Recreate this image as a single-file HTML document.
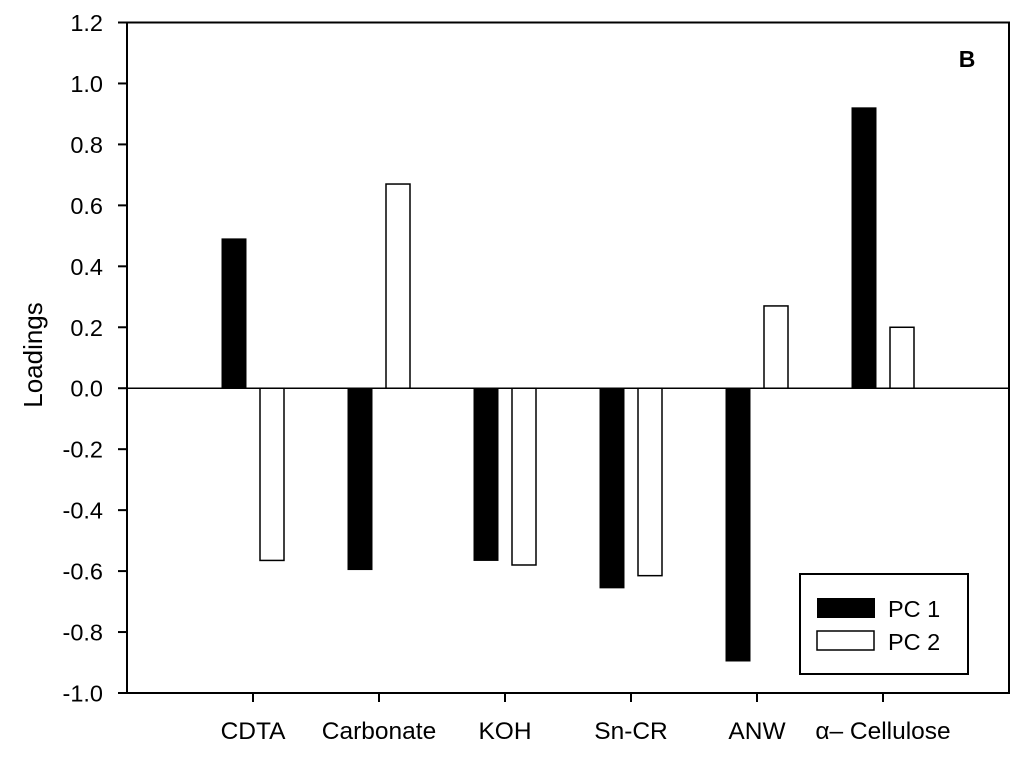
<!DOCTYPE html>
<html><head><meta charset="utf-8"><style>
html,body{margin:0;padding:0;background:#fff;}
svg text{font-family:"Liberation Sans",Arial,sans-serif;fill:#000;}
</style></head><body>
<svg id="chart" width="1024" height="752" viewBox="0 0 1024 752" xmlns="http://www.w3.org/2000/svg"></svg>
<script>
const categories = ["CDTA","Carbonate","KOH","Sn-CR","ANW","\u03b1\u2013 Cellulose"];
const pc1 = [0.49,-0.595,-0.565,-0.655,-0.895,0.92];
const pc2 = [-0.565,0.67,-0.58,-0.615,0.27,0.20];
const yTicks = [1.2,1.0,0.8,0.6,0.4,0.2,0.0,-0.2,-0.4,-0.6,-0.8,-1.0];

const svg = document.getElementById('chart');
const NS = 'http://www.w3.org/2000/svg';
const L=127,R=1009,T=22.5,B=693;
const yMin=-1.0,yMax=1.2;
const y = v => B - (v-yMin)/(yMax-yMin)*(B-T);
const x = i => L + (i+1)*(R-L)/(categories.length+1);
function mk(tag, attrs){const e=document.createElementNS(NS,tag);for(const k in attrs)e.setAttribute(k,attrs[k]);svg.appendChild(e);return e;}

const bw=24, off=19;
categories.forEach((c,i)=>{
  const cx=x(i);
  const b1=mk('rect',{x:cx-off-bw/2,y:Math.min(y(pc1[i]),y(0)),width:bw,height:Math.abs(y(pc1[i])-y(0)),fill:'#000',stroke:'#000','stroke-width':1});
  
  
  const b2=mk('rect',{x:cx+off-bw/2,y:Math.min(y(pc2[i]),y(0)),width:bw,height:Math.abs(y(pc2[i])-y(0)),fill:'#fff',stroke:'#000','stroke-width':1.5});
  
  
  const tk=mk('line',{x1:cx,x2:cx,y1:B,y2:B+9,stroke:'#000','stroke-width':2});
  
  
  const t=mk('text',{x:cx,y:739,'text-anchor':'middle','font-size':24.5});
  t.textContent=c;
  
  
});
const z=mk('line',{x1:L,x2:R,y1:y(0),y2:y(0),stroke:'#000','stroke-width':1.5});


const f=mk('rect',{x:L,y:T,width:R-L,height:B-T,fill:'none',stroke:'#000','stroke-width':2});


yTicks.forEach(v=>{
  const l=mk('line',{x1:L-9,x2:L,y1:y(v),y2:y(v),stroke:'#000','stroke-width':2});
  
  
  const t=mk('text',{x:103,y:y(v)+8.5,'text-anchor':'end','font-size':23.5});
  t.textContent=v.toFixed(1);
  
  
});
</script>
<svg style="position:absolute;left:0;top:0" width="1024" height="752">
<text x="42" y="355" font-size="26" text-anchor="middle" transform="rotate(-90 42 355)">Loadings</text>
<text x="967" y="67" font-size="23" font-weight="bold" text-anchor="middle">B</text>
<g>
<rect x="800" y="574" width="168" height="100" fill="#fff" stroke="#000" stroke-width="2"/>
<rect x="817" y="598" width="58" height="20" fill="#000"/>
<text x="888" y="617" font-size="23.5">PC 1</text>
<rect x="817" y="631" width="57" height="19" fill="#fff" stroke="#000" stroke-width="1.5"/>
<text x="888" y="650" font-size="23.5">PC 2</text>
</g>
</svg>
</body></html>
